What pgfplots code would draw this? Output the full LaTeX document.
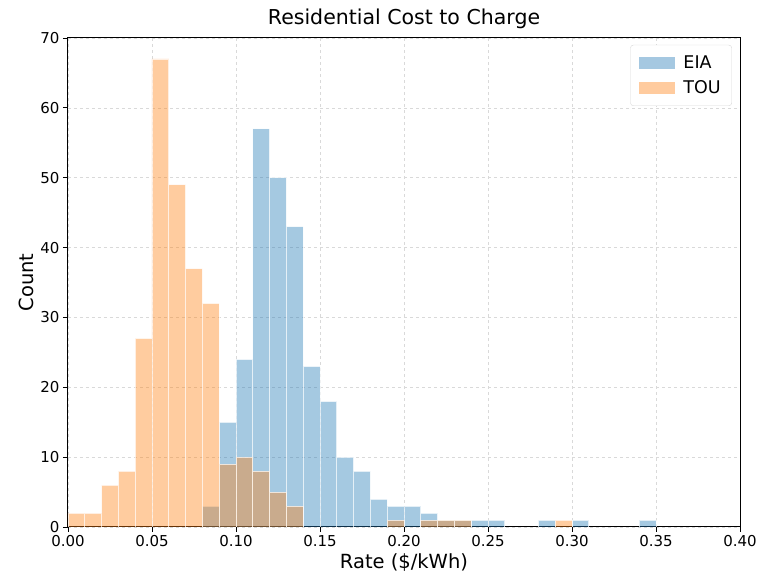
\documentclass[border=0pt]{standalone}
\usepackage{pgfplots}
\pgfplotsset{compat=1.18}
\usepackage{fontspec}
\setmainfont{DejaVu Sans}
\definecolor{mblue}{HTML}{1F77B4}
\definecolor{morange}{HTML}{FF7F0E}
\begin{document}
\begin{tikzpicture}
\begin{axis}[
  scale only axis,
  width=672pt, height=489pt,
  xmin=0, xmax=0.4, ymin=0, ymax=70,
  xtick={0,0.05,0.1,0.15,0.2,0.25,0.3,0.35,0.4},
  xticklabels={0.00,0.05,0.10,0.15,0.20,0.25,0.30,0.35,0.40},
  ytick={0,10,...,70},
  /pgf/number format/assume math mode=true,
  tick label style={font=\fontsize{15}{18}\selectfont},
  xtick pos=left, ytick pos=left,
  tick align=outside,
  major tick length=5pt,
  tick style={black, line width=0.8pt},
  axis line style={black, line width=1pt},
  grid=major,
  grid style={dashed, gray!30, line width=0.6pt},
  title={Residential Cost to Charge},
  title style={font=\fontsize{20.5}{24}\selectfont},
  xlabel={Rate (\$/kWh)},
  ylabel={Count},
  label style={font=\fontsize{19.5}{23}\selectfont},
  ybar, bar width=0.01, bar shift=0pt,
  legend style={at={(0.988,0.986)}, anchor=north east, draw=gray!30, rounded corners=3pt,
    font=\fontsize{17.5}{20}\selectfont, inner xsep=9pt, inner ysep=9pt, row sep=6pt},
  legend cell align=left,
  legend image code/.code={\draw[#1, draw=none, sharp corners] (0pt,-6pt) rectangle (36pt,6pt);},
]
\addplot[fill=mblue, fill opacity=0.4, draw=white, draw opacity=0.7, line width=0.7pt] coordinates {
 (0.085,3) (0.095,15) (0.105,24) (0.115,57) (0.125,50) (0.135,43) (0.145,23)
 (0.155,18) (0.165,10) (0.175,8) (0.185,4) (0.195,3) (0.205,3) (0.215,2)
 (0.225,1) (0.235,1) (0.245,1) (0.255,1) (0.285,1) (0.305,1) (0.345,1)
};
\addlegendentry{\hspace{6pt}EIA}
\addplot[fill=morange, fill opacity=0.4, draw=white, draw opacity=0.7, line width=0.7pt] coordinates {
 (0.005,2) (0.015,2) (0.025,6) (0.035,8) (0.045,27) (0.055,67) (0.065,49)
 (0.075,37) (0.085,32) (0.095,9) (0.105,10) (0.115,8) (0.125,5) (0.135,3)
 (0.195,1) (0.215,1) (0.225,1) (0.235,1) (0.295,1)
};
\addlegendentry{\hspace{6pt}TOU}
\coordinate (ll) at (rel axis cs:0,0);
\coordinate (ur) at (rel axis cs:1,1);
\end{axis}
\pgfresetboundingbox
\path ([shift={(-68pt,-57pt)}]ll) rectangle ([shift={(20pt,38pt)}]ur);
\end{tikzpicture}
\end{document}
